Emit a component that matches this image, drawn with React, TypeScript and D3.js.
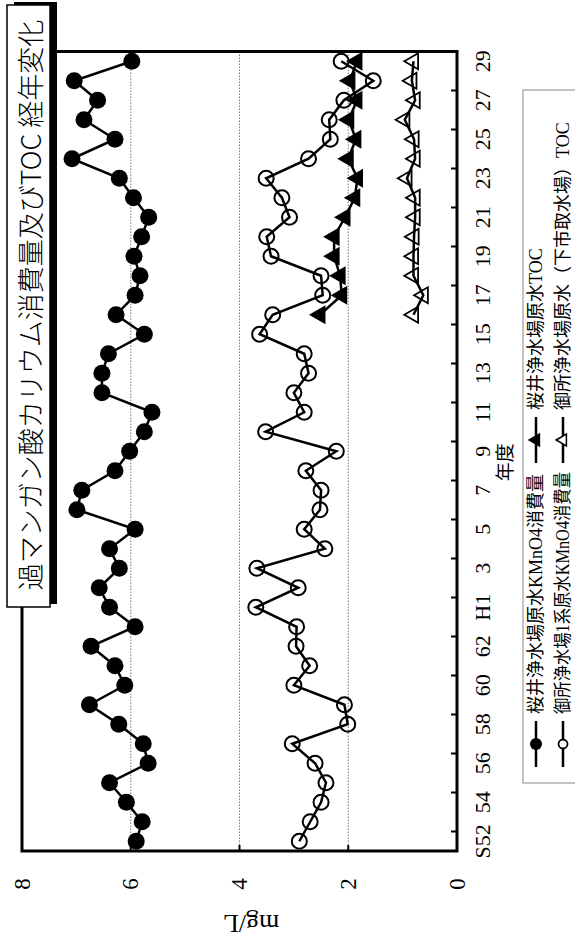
import React, { useEffect, useRef } from 'react';
import * as d3 from 'd3';

// The chart is drawn landscape (943 x 575) and turned -90deg onto the 575 x 943 page
const W = 943;
const H = 575;

const years = [
  'S52', 'S53', 'S54', 'S55', 'S56', 'S57', 'S58', 'S59', 'S60', 'S61', 'S62', 'S63',
  'H1', 'H2', 'H3', 'H4', 'H5', 'H6', 'H7', 'H8', 'H9', 'H10', 'H11', 'H12', 'H13',
  'H14', 'H15', 'H16', 'H17', 'H18', 'H19', 'H20', 'H21', 'H22', 'H23', 'H24', 'H25',
  'H26', 'H27', 'H28', 'H29',
];
// shown on every second year
const tickLabels = [
  'S52', '54', '56', '58', '60', '62', 'H1', '3', '5', '7', '9',
  '11', '13', '15', '17', '19', '21', '23', '25', '27', '29',
];

// 桜井浄水場原水 KMnO4消費量
const sakuraiKMnO4 = [
  5.90, 5.79, 6.08, 6.39, 5.68, 5.77, 6.22, 6.76, 6.11, 6.29, 6.73, 5.92, 6.39, 6.58,
  6.21, 6.39, 5.92, 6.99, 6.90, 6.29, 6.02, 5.75, 5.61, 6.53, 6.53, 6.41, 5.75, 6.27,
  5.92, 5.83, 5.94, 5.80, 5.67, 5.95, 6.21, 7.08, 6.29, 6.86, 6.61, 7.04, 5.98,
];
// 御所浄水場1系原水 KMnO4消費量
const goseKMnO4 = [
  2.90, 2.70, 2.50, 2.41, 2.61, 3.03, 2.01, 2.07, 3.00, 2.71, 2.96, 2.95, 3.70, 2.92,
  3.68, 2.43, 2.81, 2.52, 2.50, 2.78, 2.22, 3.52, 2.81, 3.00, 2.73, 2.81, 3.63, 3.39,
  2.47, 2.50, 3.42, 3.50, 3.08, 3.22, 3.51, 2.73, 2.33, 2.35, 2.08, 1.54, 2.13,
];

const tocYears = [
  'H16', 'H17', 'H18', 'H19', 'H20', 'H21', 'H22', 'H23', 'H24', 'H25', 'H26', 'H27', 'H28', 'H29',
];
// 桜井浄水場原水 TOC
const sakuraiTOC = [2.52, 2.12, 2.15, 2.26, 2.26, 2.06, 1.88, 1.83, 2.00, 1.86, 1.99, 1.84, 1.97, 1.84];
// 御所浄水場原水(下市取水場) TOC
const goseTOC = [0.80, 0.62, 0.80, 0.80, 0.79, 0.77, 0.77, 0.92, 0.77, 0.79, 0.96, 0.77, 0.83, 0.80];

const yTicks = [0, 2, 4, 6, 8];
const gridValues = [2, 4, 6];

const title = '過マンガン酸カリウム消費量及びTOC 経年変化';
const legendItems = [
  { name: '桜井浄水場原水KMnO4消費量', marker: 'circle', filled: true },
  { name: '御所浄水場1系原水KMnO4消費量', marker: 'circle', filled: false },
  { name: '桜井浄水場原水TOC', marker: 'triangle', filled: true },
  { name: '御所浄水場原水（下市取水場）TOC', marker: 'triangle', filled: false },
];

const FONT = "'Liberation Serif', 'Noto Sans CJK JP', serif";

const App: React.FC = () => {
  const svgRef = useRef<SVGSVGElement>(null);

  useEffect(() => {
    if (!svgRef.current) return;
    const svg = d3.select(svgRef.current);
    svg.selectAll('*').remove();

    const g = svg.append('g')
      .attr('transform', `translate(0,${W}) rotate(-90)`)
      .style('font-family', FONT);

    const left = 92, right = 891.5, top = 22, bottom = 457;

    const x = d3.scaleBand<string>().domain(years).range([left, right]);
    const y = d3.scaleLinear().domain([0, 8]).range([bottom, top]);
    const cx = (k: string) => (x(k) ?? 0) + x.bandwidth() / 2;

    // grid lines
    g.selectAll('.grid')
      .data(gridValues)
      .join('line')
      .attr('x1', left).attr('x2', right)
      .attr('y1', d => y(d)).attr('y2', d => y(d))
      .style('stroke', '#777')
      .style('stroke-width', 1)
      .style('stroke-dasharray', '1.5,1.5');

    // value ticks
    g.selectAll('.vtick')
      .data(yTicks)
      .join('line')
      .attr('x1', left).attr('x2', left + 6)
      .attr('y1', d => y(d)).attr('y2', d => y(d))
      .style('stroke', '#000')
      .style('stroke-width', 2);

    // category ticks, between every second pair of years
    const tickYears = years.filter((_, i) => i % 2 === 1);
    g.selectAll('.ctick')
      .data(tickYears)
      .join('line')
      .attr('x1', d => x(d) ?? 0).attr('x2', d => x(d) ?? 0)
      .attr('y1', bottom).attr('y2', bottom - 6)
      .style('stroke', '#000')
      .style('stroke-width', 2);

    // frame
    g.append('rect')
      .attr('x', left).attr('y', top)
      .attr('width', right - left).attr('height', bottom - top)
      .style('fill', 'none')
      .style('stroke', '#000')
      .style('stroke-width', 3);

    // value labels
    g.selectAll('.vlabel')
      .data(yTicks)
      .join('text')
      .attr('x', 59)
      .attr('y', d => y(d))
      .attr('text-anchor', 'middle')
      .attr('dominant-baseline', 'central')
      .style('font-size', '23px')
      .text(d => d);

    // year labels
    const labelYears = years.filter((_, i) => i % 2 === 0);
    g.selectAll('.clabel')
      .data(labelYears)
      .join('text')
      .attr('x', d => cx(d))
      .attr('y', 482)
      .attr('text-anchor', 'middle')
      .attr('dominant-baseline', 'central')
      .style('font-size', '22px')
      .text((_, i) => tickLabels[i]);

    g.append('text')
      .attr('x', (left + right) / 2 - 11)
      .attr('y', 505)
      .attr('text-anchor', 'middle')
      .attr('dominant-baseline', 'central')
      .style('font-size', '19px')
      .text('年度');

    g.append('text')
      .attr('transform', 'translate(20,251) rotate(-90)')
      .attr('text-anchor', 'middle')
      .attr('dominant-baseline', 'central')
      .style('font-size', '26px')
      .text('mg/L');

    // series
    const line = d3.line<[string, number]>()
      .x(d => cx(d[0]))
      .y(d => y(d[1]));

    const tri = d3.symbol().type(d3.symbolTriangle).size(110)() as string;

    const drawSeries = (keys: string[], vals: number[], marker: string, filled: boolean) => {
      const pts = keys.map((k, i) => [k, vals[i]] as [string, number]);
      g.append('path')
        .datum(pts)
        .attr('d', line)
        .style('fill', 'none')
        .style('stroke', '#000')
        .style('stroke-width', 2.5);
      if (marker === 'circle') {
        g.selectAll(null)
          .data(pts)
          .join('circle')
          .attr('cx', d => cx(d[0]))
          .attr('cy', d => y(d[1]))
          .attr('r', filled ? 8.5 : 7.5)
          .style('fill', filled ? '#000' : 'none')
          .style('stroke', '#000')
          .style('stroke-width', filled ? 0 : 2);
      } else {
        g.selectAll(null)
          .data(pts)
          .join('path')
          .attr('d', tri)
          .attr('transform', d => `translate(${cx(d[0])},${y(d[1])})`)
          .style('fill', filled ? '#000' : 'none')
          .style('stroke', '#000')
          .style('stroke-width', 1.8);
      }
    };

    drawSeries(years, sakuraiKMnO4, 'circle', true);
    drawSeries(years, goseKMnO4, 'circle', false);
    drawSeries(tocYears, sakuraiTOC, 'triangle', true);
    drawSeries(tocYears, goseTOC, 'triangle', false);

    // title box with shadow
    g.append('rect')
      .attr('x', 339).attr('y', 14)
      .attr('width', 602).attr('height', 43)
      .style('fill', '#000');
    g.append('rect')
      .attr('x', 336).attr('y', 7)
      .attr('width', 602).attr('height', 43)
      .style('fill', '#fff')
      .style('stroke', '#000')
      .style('stroke-width', 1.5);
    g.append('text')
      .attr('x', 638).attr('y', 29)
      .attr('text-anchor', 'middle')
      .attr('dominant-baseline', 'central')
      .style('font-size', '27px')
      .style('font-family', "'Noto Sans CJK JP', sans-serif")
      .style('font-weight', 300)
      .text(title);

    // legend
    g.append('rect')
      .attr('x', 160).attr('y', 523)
      .attr('width', 693).attr('height', 80)
      .style('fill', '#fff')
      .style('stroke', '#888')
      .style('stroke-width', 1);

    const colX = [176, 480];
    const rowY = [536, 563];
    legendItems.forEach((item, i) => {
      const lx = colX[Math.floor(i / 2)];
      const ly = rowY[i % 2];
      const lg = g.append('g').attr('transform', `translate(${lx},${ly})`);
      lg.append('line')
        .attr('x1', 0).attr('x2', 46)
        .attr('y1', 0).attr('y2', 0)
        .style('stroke', '#000')
        .style('stroke-width', 2.5);
      if (item.marker === 'circle') {
        lg.append('circle')
          .attr('cx', 23).attr('cy', 0)
          .attr('r', item.filled ? 6 : 4.5)
          .style('fill', item.filled ? '#000' : '#fff')
          .style('stroke', '#000')
          .style('stroke-width', item.filled ? 0 : 1.8);
      } else {
        lg.append('path')
          .attr('d', d3.symbol().type(d3.symbolTriangle).size(60)() as string)
          .attr('transform', 'translate(23,0)')
          .style('fill', item.filled ? '#000' : '#fff')
          .style('stroke', '#000')
          .style('stroke-width', 1.5);
      }
      const t = lg.append('text')
        .attr('x', 53).attr('y', 0)
        .attr('dominant-baseline', 'central')
        .style('font-size', '18px')
        .text(item.name);
      // keep the long first-column label clear of the second column
      const node = t.node();
      if (i < 2 && node && node.getComputedTextLength() > 242) {
        t.attr('textLength', 242).attr('lengthAdjust', 'spacingAndGlyphs');
      }
    });
  }, []);

  return (
    <div style={{ position: 'absolute', left: 0, top: 0, background: '#fff' }}>
      <svg ref={svgRef} width={H} height={W} style={{ display: 'block' }}></svg>
    </div>
  );
};

export default App;
